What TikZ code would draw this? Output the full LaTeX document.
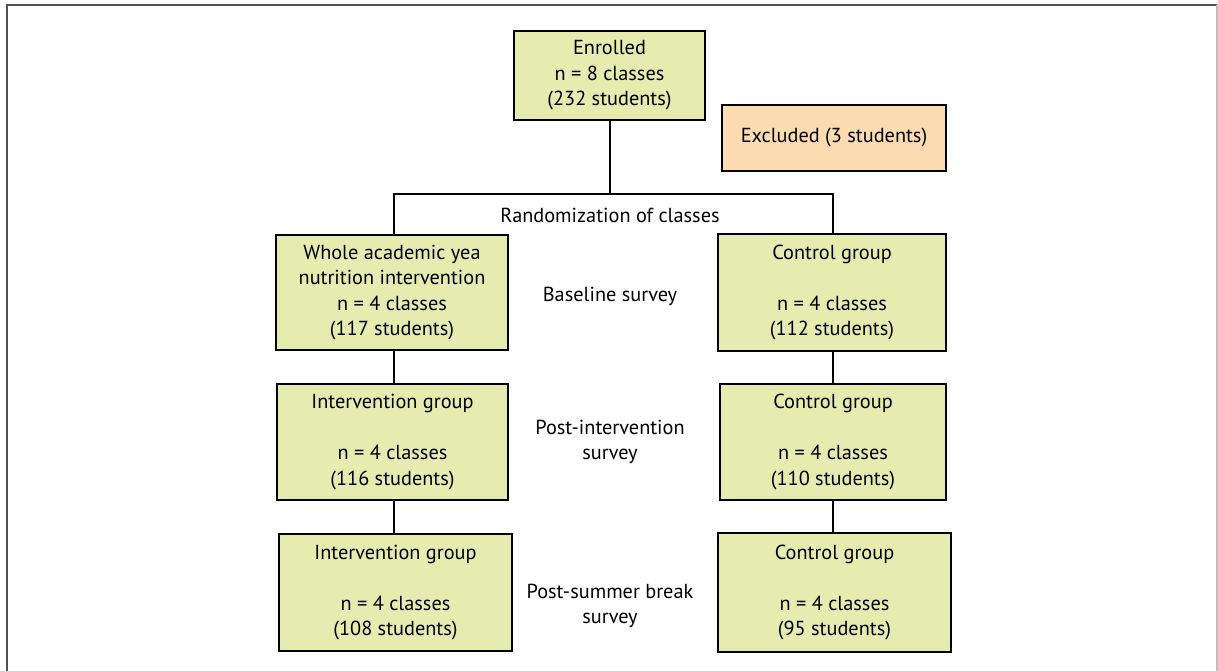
\documentclass[tikz,border=0pt]{standalone}
\usepackage{fontspec}
\setmainfont{PT Sans}
\definecolor{boxgreen}{RGB}{228,236,176}
\definecolor{boxorange}{RGB}{252,219,176}
\definecolor{framedark}{RGB}{80,80,80}
\definecolor{framelight}{RGB}{190,190,190}
\tikzset{
  txt/.style={font=\fontsize{20.3}{25.5}\selectfont},
  box/.style={draw=black, line width=1.1pt, fill=boxgreen, align=center, inner sep=0pt, txt},
  exbox/.style={draw=black, line width=1.1pt, fill=boxorange, align=center, inner sep=0pt, txt},
  lbl/.style={align=center, inner sep=0pt, txt},
  conn/.style={draw=black, line width=1.1pt}
}
\begin{document}
\begin{tikzpicture}[x=1pt,y=-1pt]
\useasboundingbox (0,0) rectangle (1218,671);
% frame
\draw[framedark, line width=1.5pt] (7,671) -- (7,5) -- (1217,5);
\draw[framelight, line width=1.2pt] (1217,5) -- (1217,671);
% boxes
\node[box, minimum width=191pt, minimum height=89pt] (enr) at (609.5,75.5) {Enrolled\\n = 8 classes\\(232 students)};
\node[exbox, minimum width=224pt, minimum height=66pt] (exc) at (834,138) {Excluded (3 students)};
\node[box, minimum width=232pt, minimum height=115pt] (a1) at (392,292.5) {Whole academic yea\\nutrition intervention\\n = 4 classes\\(117 students)};
\node[box, minimum width=231pt, minimum height=116pt] (a2) at (392.5,442) {Intervention group\\[25.5pt]n = 4 classes\\(116 students)};
\node[box, minimum width=233pt, minimum height=117pt] (a3) at (395.5,592.5) {Intervention group\\[25.5pt]n = 4 classes\\(108 students)};
\node[box, minimum width=228pt, minimum height=117pt] (b1) at (832,292.5) {Control group\\[25.5pt]n = 4 classes\\(112 students)};
\node[box, minimum width=226pt, minimum height=116pt] (b2) at (833,442) {Control group\\[25.5pt]n = 4 classes\\(110 students)};
\node[box, minimum width=233pt, minimum height=119pt] (b3) at (834.5,592.5) {Control group\\[25.5pt]n = 4 classes\\(95 students)};
% labels
\node[lbl] (rand) at (610,215) {Randomization of classes};
\node[lbl] (base) at (610,296) {Baseline survey};
\node[lbl] (post) at (610,442) {Post-intervention\\survey};
\node[lbl] (summ) at (610,606) {Post-summer break\\survey};
% connectors
\coordinate (L) at (394,194);
\coordinate (R) at (833,194);
\coordinate (M) at (610,194);
\draw[conn] (enr.south -| M) -- (M);
\draw[conn] (a1.north -| L) -- (L) -- (R) -- (b1.north -| R);
\draw[conn] (a1.south -| L) -- (a2.north -| L);
\draw[conn] (a2.south -| L) -- (a3.north -| L);
\draw[conn] (b1.south -| R) -- (b2.north -| R);
\draw[conn] (b2.south -| R) -- (b3.north -| R);
\end{tikzpicture}
\end{document}
